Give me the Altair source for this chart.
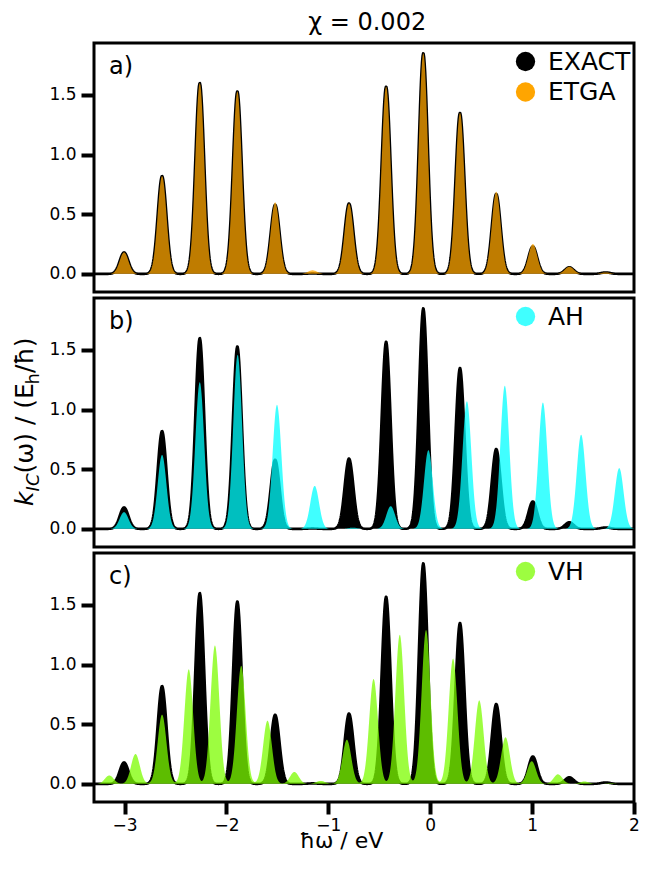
import numpy as np
import pandas as pd
import altair as alt

# ---- data: peak centres (eV) and peak heights ----
exact_pos = [-3.005, -2.632, -2.262, -1.893, -1.522, -1.155, -0.797, -0.433, -0.068, 0.292, 0.648, 1.007, 1.365, 1.722]
exact_h   = [0.18, 0.82, 1.60, 1.53, 0.58, 0.004, 0.59, 1.57, 1.85, 1.35, 0.67, 0.23, 0.055, 0.012]

etga_pos  = [-3.005, -2.632, -2.262, -1.893, -1.522, -1.155, -0.797, -0.433, -0.068, 0.292, 0.648, 1.007, 1.365, 1.722]
etga_h    = [0.18, 0.82, 1.60, 1.53, 0.60, 0.03, 0.59, 1.57, 1.85, 1.35, 0.69, 0.25, 0.06, 0.012]

ah_pos    = [-3.005, -2.632, -2.262, -1.890, -1.504, -1.134, -0.760, -0.388, -0.018, 0.360, 0.732, 1.106, 1.481, 1.855]
ah_h      = [0.14, 0.62, 1.23, 1.46, 1.04, 0.36, 0.01, 0.19, 0.66, 1.07, 1.20, 1.06, 0.79, 0.51]

vh_pos    = [-3.150, -2.893, -2.632, -2.370, -2.113, -1.855, -1.597, -1.333, -1.075, -0.818,
             -0.556, -0.299, -0.041, 0.224, 0.481, 0.739, 0.996, 1.254, 1.512, 1.770]
vh_h      = [0.07, 0.25, 0.58, 0.96, 1.16, 0.99, 0.53, 0.10, 0.025, 0.37,
             0.88, 1.25, 1.29, 1.05, 0.70, 0.39, 0.19, 0.08, 0.02, 0.005]

peak_sigma = 0.043          # Gaussian broadening of each line (eV)
x_ticks = [-3, -2, -1, 0, 1, 2]
y_ticks = [0.0, 0.5, 1.0, 1.5]
panel_labels = ["a)", "b)", "c)"]

x_grid = np.round(np.arange(-3.3, 2.0001, 0.005), 4)


def spectrum(pos, h, name):
    y = np.zeros_like(x_grid)
    for p, a in zip(pos, h):
        y += a * np.exp(-0.5 * ((x_grid - p) / peak_sigma) ** 2)
    return pd.DataFrame({"x": x_grid, "y": y, "s": name})


df_exact = spectrum(exact_pos, exact_h, "EXACT")
df_etga = spectrum(etga_pos, etga_h, "ETGA")
df_ah = spectrum(ah_pos, ah_h, "AH")
df_vh = spectrum(vh_pos, vh_h, "VH")

W, H = 540, 249
FONT = "DejaVu Sans"
xscale = alt.Scale(domain=[-3.3, 2.0], nice=False, zero=False)
yscale = alt.Scale(domain=[-0.152, 1.935], nice=False, zero=False)
yaxis = alt.Axis(values=y_ticks, format=".1f", title=None)


def legend(y0):
    return alt.Legend(title=None, orient="none", legendX=419, legendY=y0,
                      symbolType="circle", symbolSize=372, symbolStrokeWidth=0,
                      labelFontSize=25, labelFont=FONT, labelOffset=10,
                      rowPadding=4.5, padding=0, labelColor="black")


def panel(df_other, name, color, label, xaxis, extra=None):
    if name == "ETGA":
        dom, rng = ["EXACT", "ETGA"], ["black", color]
    else:
        dom, rng = [name], [color]
    cscale = alt.Scale(domain=dom, range=rng)
    x_enc = alt.X("x:Q", scale=xscale, axis=xaxis)
    y_enc = alt.Y("y:Q", scale=yscale, axis=yaxis, stack=None)

    if name == "ETGA":
        black_area = alt.Chart(df_exact).mark_area(opacity=1).encode(
            x=x_enc, y=y_enc,
            color=alt.Color("s:N", scale=cscale, legend=legend(6)))
    else:
        black_area = alt.Chart(df_exact).mark_area(color="black", opacity=1).encode(
            x=x_enc, y=y_enc)
    black_line = alt.Chart(df_exact).mark_line(color="black", strokeWidth=2.6,
                                               strokeJoin="round").encode(x=x_enc, y=y_enc)
    col_area = alt.Chart(df_other).mark_area(opacity=0.75).encode(
        x=x_enc, y=y_enc,
        color=alt.Color("s:N", scale=cscale, legend=legend(6)))
    txt = alt.Chart(pd.DataFrame({"t": [label]})).mark_text(
        align="left", baseline="middle", fontSize=24, font=FONT, color="black"
    ).encode(text="t:N", x=alt.value(15), y=alt.value(24))
    layers = [black_area, black_line, col_area, txt]
    if extra is not None:
        layers += extra
    return alt.layer(*layers).properties(width=W, height=H)


# y-axis title of the middle panel, built from pieces to get subscripts
ylab_pieces = pd.DataFrame({
    "t":    ["k", "IC", "(ω) / (E", "h", "/ħ)"],
    "yy":   [207.9, 193.4, 175.5, 86.5, 75.1],
    "xx":   [-61.0, -55.5, -61.0, -55.5, -61.0],
    "size": [25, 18, 25, 18, 25],
    "sty":  ["italic", "italic", "normal", "normal", "normal"],
})
ylab = []
for _, r in ylab_pieces.iterrows():
    ylab.append(alt.Chart(pd.DataFrame({"t": [r.t]})).mark_text(
        align="left", baseline="alphabetic", angle=270, fontSize=int(r["size"]),
        font=FONT, fontStyle=r.sty, color="black"
    ).encode(text="t:N", x=alt.value(float(r.xx)), y=alt.value(float(r.yy))))

xaxis_bottom = alt.Axis(values=x_ticks, format="d", title="ħω / eV",
                        titleFontSize=22, titleFont=FONT, titleFontWeight="normal",
                        titleX=247, titleY=38, titleBaseline="middle",
                        labelFlush=False, labelOverlap=False,
                        tickSize=12, labelPadding=3)

pa = panel(df_etga, "ETGA", "#FFA500", panel_labels[0], None)
pb = panel(df_ah, "AH", "#00FFFF", panel_labels[1], None, extra=ylab)
pc = panel(df_vh, "VH", "#7CFC00", panel_labels[2], xaxis_bottom)

chart = alt.vconcat(pa, pb, pc, spacing=2).resolve_scale(color="independent").properties(
    title=alt.TitleParams("χ = 0.002", fontSize=24, font=FONT, fontWeight="normal",
                          anchor="middle", offset=7, dx=41, color="black"),
    padding={"left": 3, "top": 2, "right": 0, "bottom": 0},
).configure(background="white").configure_view(
    stroke="black", strokeWidth=3
).configure_axis(
    labelFont=FONT, labelFontSize=17, labelColor="black", tickColor="black",
    tickWidth=4, tickSize=13, labelPadding=5, domain=False, grid=False
)

chart.save("out.html", embed_options={"renderer": "svg", "actions": False})
